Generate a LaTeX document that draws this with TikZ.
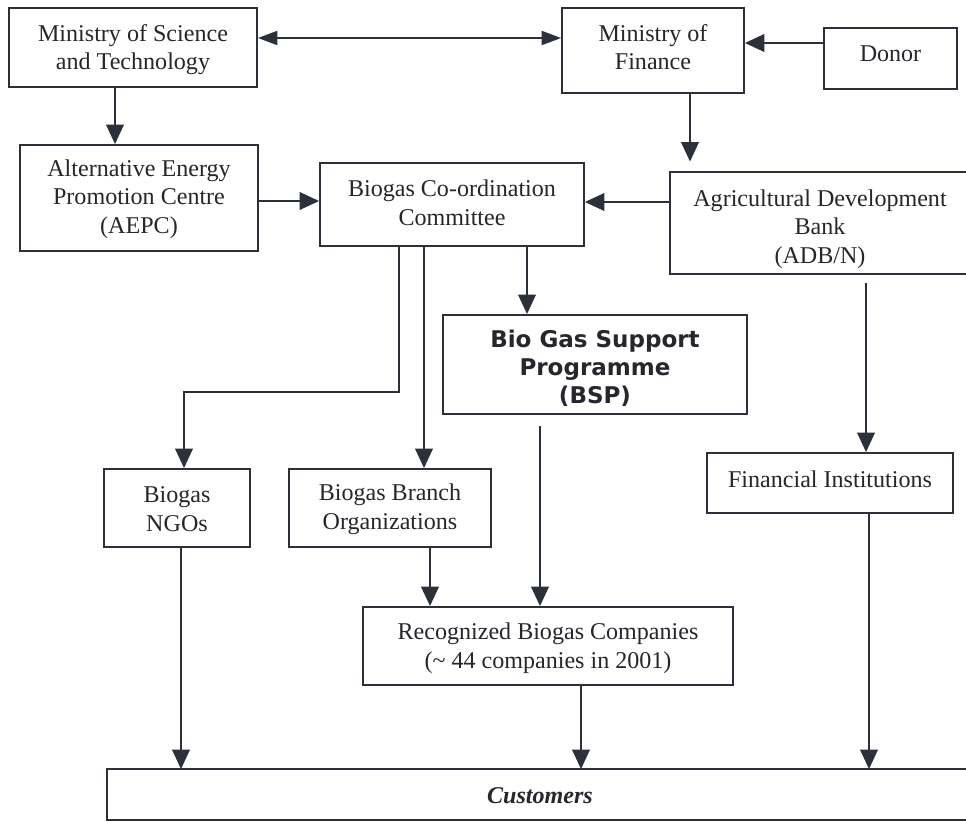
\documentclass[tikz,border=0pt]{standalone}
\usepackage{fontspec}
\setmainfont{Liberation Serif}
\newfontfamily\bspfont{DejaVu Sans}
\usetikzlibrary{arrows.meta,calc}
\definecolor{ink}{RGB}{44,48,58}
\definecolor{txt}{RGB}{38,38,44}
\begin{document}
\begin{tikzpicture}[x=0.02cm,y=-0.02cm,
  boxline/.style={draw=ink, line width=1.1pt},
  box/.style={boxline, inner sep=0pt},
  lbl/.style={align=center, text=txt, inner sep=0pt,
    font=\fontsize{13.7}{16.3}\selectfont},
  conn/.style={draw=ink, line width=0.95pt, -{Triangle[length=11pt,width=10pt]}},
  dconn/.style={draw=ink, line width=0.95pt, {Triangle[length=11pt,width=8pt]}-{Triangle[length=11pt,width=8pt]}},
]
\useasboundingbox (0,0) rectangle (966,821);
\fill[white] (0,0) rectangle (966,821);

% boxes
\node[box, minimum width=4.96cm, minimum height=1.58cm] (most) at (133,47.5) {};
\node[lbl] (most-t) at (133,49.5) {Ministry of Science\\and Technology};

\node[box, minimum width=3.64cm, minimum height=1.70cm] (mof) at (653,50.5) {};
\node[lbl] (mof-t) at (653,47) {Ministry of\\Finance};

\node[box, minimum width=2.66cm, minimum height=1.22cm] (donor) at (890.5,58.5) {};
\node[lbl] (donor-t) at (890.5,54) {Donor};

\node[box, minimum width=4.76cm, minimum height=2.12cm] (aepc) at (139,198) {};
\node[lbl] (aepc-t) at (139,199) {Alternative Energy\\Promotion Centre\\(AEPC)};

\node[box, minimum width=5.28cm, minimum height=1.66cm] (bcc) at (452,204.5) {};
\node[lbl] (bcc-t) at (452,202.5) {Biogas Co-ordination\\Committee};

\node[box, draw=none, minimum width=5.90cm, minimum height=2.00cm] (adb) at (818.5,223) {};
\draw[boxline] (adb.north east) -- (adb.north west) -- (adb.south west) -- (adb.south east);
\node[lbl] (adb-t) at (820,229) {Agricultural Development\\Bank\\(ADB/N)};

\node[box, minimum width=6.08cm, minimum height=1.98cm] (bsp) at (595,364.5) {};
\node[lbl, font=\bspfont\bfseries\fontsize{13.1}{15.9}\selectfont] (bsp-t) at (595,368)
  {Bio Gas Support\\Programme\\(BSP)};

\node[box, minimum width=2.92cm, minimum height=1.56cm] (ngo) at (177,508) {};
\node[lbl] (ngo-t) at (177,509) {Biogas\\NGOs};

\node[box, minimum width=4.04cm, minimum height=1.56cm] (branch) at (390,508) {};
\node[lbl] (branch-t) at (390,509.5) {Biogas Branch\\Organizations};

\node[box, minimum width=4.92cm, minimum height=1.20cm] (fi) at (830,483) {};
\node[lbl] (fi-t) at (830,479) {Financial Institutions};

\node[box, minimum width=7.40cm, minimum height=1.56cm] (rbc) at (548,646) {};
\node[lbl] (rbc-t) at (548,648) {Recognized Biogas Companies\\(\textasciitilde\ 44 companies in 2001)};

\node[box, draw=none, minimum width=17.16cm, minimum height=0.98cm] (cust) at (537,794.5) {};
\draw[boxline] (cust.north east) -- (cust.north west) -- (cust.south west) -- (cust.south east);
\node[lbl, font=\fontsize{13.7}{16.3}\selectfont\bfseries\itshape] (cust-t) at (540,796) {Customers};

% connectors
\coordinate (c1) at ($(most.east)+(0,-9.5)$);
\draw[dconn] (c1) -- (c1 -| mof.west);
\coordinate (c2) at ($(donor.west)+(0,-15.5)$);
\draw[conn] (c2) -- (c2 -| mof.east);
\coordinate (c3) at ($(most.south)+(-18,0)$);
\draw[conn] (c3) -- (c3 |- aepc.north);
\coordinate (c4) at ($(mof.south)+(37,0)$);
\draw[conn, shorten >=6pt] (c4) -- (c4 |- adb.north);
\coordinate (c5) at ($(aepc.east)+(0,3)$);
\draw[conn] (c5) -- (c5 -| bcc.west);
\coordinate (c6) at ($(adb.west)+(0,-21)$);
\draw[conn] (c6) -- (c6 -| bcc.east);
\coordinate (c7) at ($(bcc.south)+(75,0)$);
\draw[conn] (c7) -- (c7 |- bsp.north);
\coordinate (c8) at ($(bcc.south)+(-53,0)$);
\coordinate (c8b) at ($(ngo.north)+(7,0)$);
\draw[conn] (c8) -- ++(0,145) -| (c8b);
\coordinate (c9) at ($(bcc.south)+(-28,0)$);
\draw[conn] (c9) -- (c9 |- branch.north);
\coordinate (c10) at ($(adb.south)+(47.5,0)$);
\draw[conn, shorten <=5pt] (c10) -- (c10 |- fi.north);
\coordinate (c11) at ($(ngo.south)+(4,0)$);
\draw[conn] (c11) -- (c11 |- cust.north);
\coordinate (c12) at ($(branch.south)+(40,0)$);
\draw[conn] (c12) -- (c12 |- rbc.north);
\coordinate (c13) at ($(bsp.south)+(-55,0)$);
\draw[conn, shorten <=6pt] (c13) -- (c13 |- rbc.north);
\coordinate (c14) at ($(rbc.south)+(33,0)$);
\draw[conn] (c14) -- (c14 |- cust.north);
\coordinate (c15) at ($(fi.south)+(39,0)$);
\draw[conn] (c15) -- (c15 |- cust.north);
\end{tikzpicture}
\end{document}
